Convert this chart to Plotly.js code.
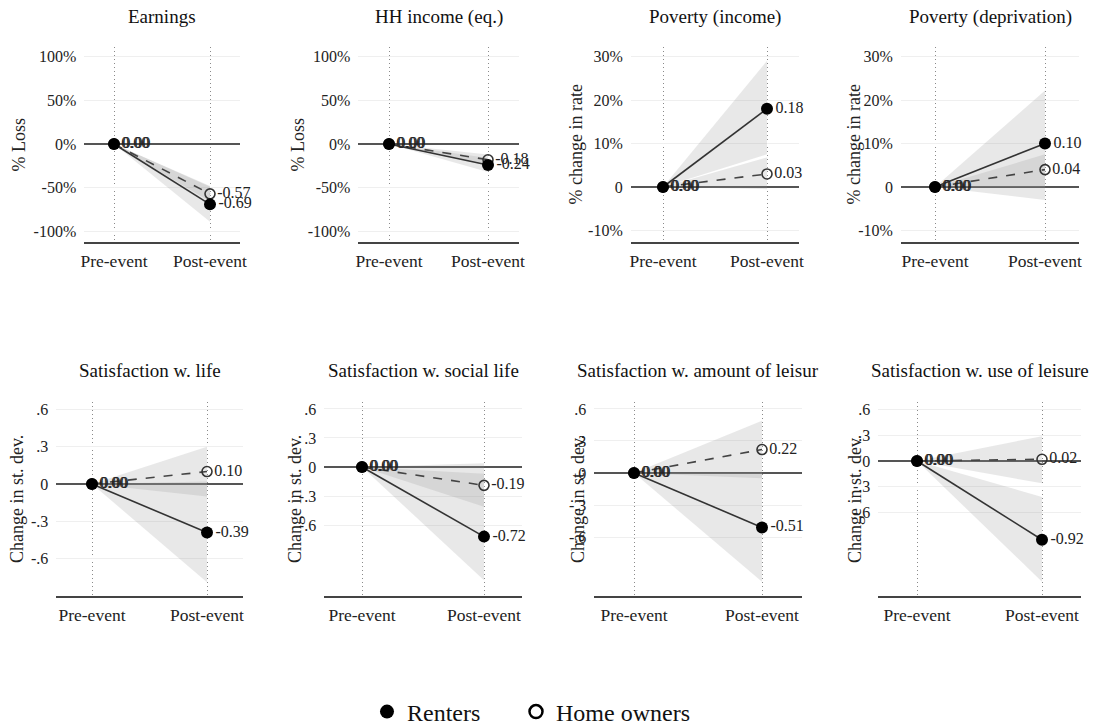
<!DOCTYPE html>
<html>
<head>
<meta charset="utf-8">
<script src="https://cdn.plot.ly/plotly-3.0.1.min.js"></script>
<style>html,body{margin:0;padding:0;background:#fff;}#chart{width:1097px;height:726px;}</style>
</head>
<body>
<div id="chart"></div>
<script>
// ---------------- DATA ----------------
const periods = ['Pre-event', 'Post-event'];
const panelTitles = ['Earnings', 'HH income (eq.)', 'Poverty (income)', 'Poverty (deprivation)',
  'Satisfaction w. life', 'Satisfaction w. social life', 'Satisfaction w. amount of leisur', 'Satisfaction w. use of leisure'];
const yTitles = ['% Loss', '% Loss', '% change in rate', '% change in rate',
  'Change in st. dev.', 'Change in st. dev.', 'Change in st. dev.', 'Change in st. dev.'];
// point estimates [pre, post]
const renters = [[0, -0.69], [0, -0.24], [0, 0.18], [0, 0.10], [0, -0.39], [0, -0.72], [0, -0.51], [0, -0.92]];
const owners  = [[0, -0.57], [0, -0.18], [0, 0.03], [0, 0.04], [0, 0.10], [0, -0.19], [0, 0.22], [0, 0.02]];
// confidence bands at post-event (pre-event is 0)
const rentersLo = [-0.89, -0.32, 0.075, -0.03, -0.79, -1.17, -1.02, -1.41];
const rentersHi = [-0.49, -0.16, 0.29, 0.222, 0.02, -0.07, 0.00, -0.42];
const ownersLo  = [-0.66, -0.23, -0.005, 0.00, -0.10, -0.41, -0.05, -0.26];
const ownersHi  = [-0.48, -0.12, 0.068, 0.075, 0.30, 0.04, 0.49, 0.29];
// tick labels
const pctTickVals = [-1, -0.5, 0, 0.5, 1];
const pctTickText = ['-100%', '-50%', '0%', '50%', '100%'];
const rateTickVals = [-0.1, 0, 0.1, 0.2, 0.3];
const rateTickText = ['-10%', '0', '10%', '20%', '30%'];
const sdTickVals = [-0.6, -0.3, 0, 0.3, 0.6];
const sdTickText = ['-.6', '-.3', '0', '.3', '.6'];
const legendNames = ['Renters', 'Home owners'];

// ---------------- GEOMETRY (pixels) ----------------
const W = 1097, H = 726;
const geo = [
  {pre: 114, post: 210, top: 47, bot: 242, zero: 144, unit: 87.5, ytx: 18},
  {pre: 389, post: 488, top: 47, bot: 242, zero: 144, unit: 87.5, ytx: 297},
  {pre: 663, post: 767, top: 47, bot: 242, zero: 187, unit: 435, ytx: 575},
  {pre: 935, post: 1045, top: 47, bot: 242, zero: 187, unit: 435, ytx: 853},
  {pre: 92, post: 207, top: 402, bot: 596, zero: 484, unit: 124.4, ytx: 17},
  {pre: 362, post: 484, top: 402, bot: 596, zero: 467, unit: 96.7, ytx: 295},
  {pre: 634, post: 762, top: 402, bot: 596, zero: 473, unit: 106.7, ytx: 578},
  {pre: 917, post: 1042, top: 402, bot: 596, zero: 461, unit: 85.6, ytx: 855}
];
const PAD = 0.31;
const FONT = '"Liberation Serif", "DejaVu Serif", "Times New Roman", serif';
const tickSets = [
  [pctTickVals, pctTickText], [pctTickVals, pctTickText], [rateTickVals, rateTickText], [rateTickVals, rateTickText],
  [sdTickVals, sdTickText], [sdTickVals, sdTickText], [sdTickVals, sdTickText], [sdTickVals, sdTickText]
];

const traces = [];
const legendBase = {orientation: 'h', xanchor: 'left', y: 1 - 712 / H, yanchor: 'middle',
  font: {family: FONT, size: 24, color: '#111'}, bgcolor: 'rgba(0,0,0,0)'};
const layout = {
  width: W, height: H,
  margin: {l: 0, r: 0, t: 0, b: 0, autoexpand: false},
  paper_bgcolor: '#fff', plot_bgcolor: '#fff',
  font: {family: FONT, color: '#222'},
  showlegend: true,
  legend: Object.assign({}, legendBase, {x: 367 / W}),
  legend2: Object.assign({}, legendBase, {x: 516 / W}),
  annotations: [],
  hovermode: false
};

const bandColor = 'rgba(150,150,150,0.22)';

for (let i = 0; i < 8; i++) {
  const g = geo[i];
  const sfx = i === 0 ? '' : String(i + 1);
  const xa = 'x' + sfx, ya = 'y' + sfx;
  const span = g.post - g.pre;
  const x0 = g.pre - PAD * span, x1 = g.post + PAD * span;
  layout['xaxis' + sfx] = {
    domain: [x0 / W, x1 / W], range: [-PAD, 1 + PAD], type: 'category', anchor: ya,
    showgrid: true, gridcolor: '#8a8a8a', griddash: '1px,3px', gridwidth: 1,
    zeroline: false, showline: true, linecolor: '#444', linewidth: 1.5,
    ticks: '', ticklabelstandoff: 2, tickfont: {family: FONT, size: 17.5, color: '#222'}, fixedrange: true
  };
  layout['yaxis' + sfx] = {
    domain: [1 - g.bot / H, 1 - g.top / H],
    range: [-(g.bot - g.zero) / g.unit, (g.zero - g.top) / g.unit], anchor: xa,
    tickvals: tickSets[i][0], ticktext: tickSets[i][1],
    showgrid: true, gridcolor: '#efefef', gridwidth: 1,
    zeroline: true, zerolinecolor: '#555', zerolinewidth: 1.5,
    showline: false, ticks: '', ticklabelstandoff: 7, tickfont: {family: FONT, size: 16, color: '#222'}, fixedrange: true
  };
  // bands
  traces.push({
    type: 'scatter', mode: 'lines', xaxis: xa, yaxis: ya, showlegend: false,
    x: [periods[0], periods[1], periods[1], periods[0]],
    y: [owners[i][0], ownersHi[i], ownersLo[i], owners[i][0]],
    fill: 'toself', fillcolor: bandColor, line: {width: 0, color: 'rgba(0,0,0,0)'}
  });
  traces.push({
    type: 'scatter', mode: 'lines', xaxis: xa, yaxis: ya, showlegend: false,
    x: [periods[0], periods[1], periods[1], periods[0]],
    y: [renters[i][0], rentersHi[i], rentersLo[i], renters[i][0]],
    fill: 'toself', fillcolor: bandColor, line: {width: 0, color: 'rgba(0,0,0,0)'}
  });
  // owners (dashed, open)
  traces.push({
    type: 'scatter', mode: 'lines+markers+text', xaxis: xa, yaxis: ya, showlegend: false, cliponaxis: false,
    x: periods, y: owners[i], text: owners[i].map(v => v.toFixed(2)),
    textposition: 'middle right', textfont: {family: FONT, size: 16, color: '#222'},
    line: {color: '#444', width: 1.6, dash: 'dash'},
    marker: {symbol: 'circle-open', size: 10, color: '#333', line: {width: 1.6, color: '#333'}}
  });
  // renters (solid, filled)
  traces.push({
    type: 'scatter', mode: 'lines+markers+text', xaxis: xa, yaxis: ya, showlegend: false, cliponaxis: false,
    x: periods, y: renters[i], text: renters[i].map(v => v.toFixed(2)),
    textposition: 'middle right', textfont: {family: FONT, size: 16, color: '#222'},
    line: {color: '#333', width: 1.6},
    marker: {symbol: 'circle', size: 12, color: '#000'}
  });
  // titles
  const titleY = i < 4 ? 17 : 370;
  layout.annotations.push({
    xref: 'paper', yref: 'paper', x: ((x0 + x1) / 2) / W, y: 1 - titleY / H,
    xanchor: 'center', yanchor: 'middle', showarrow: false, text: panelTitles[i],
    font: {family: FONT, size: 19, color: '#111'}
  });
  layout.annotations.push({
    xref: 'paper', yref: 'paper', x: g.ytx / W, y: 1 - ((g.top + g.bot) / 2) / H,
    xanchor: 'center', yanchor: 'middle', showarrow: false, textangle: -90, text: yTitles[i],
    font: {family: FONT, size: 18, color: '#222'}
  });
}
// legend entries
traces.push({type: 'scatter', mode: 'markers', x: [null], y: [null], xaxis: 'x', yaxis: 'y', name: legendNames[0],
  showlegend: true, legend: 'legend', marker: {symbol: 'circle', size: 14, color: '#000'}});
traces.push({type: 'scatter', mode: 'markers', x: [null], y: [null], xaxis: 'x', yaxis: 'y', name: legendNames[1],
  showlegend: true, legend: 'legend2', marker: {symbol: 'circle-open', size: 13, color: '#000', line: {width: 2.5, color: '#000'}}});

Plotly.newPlot('chart', traces, layout, {displayModeBar: false, staticPlot: true});
</script>
</body>
</html>
